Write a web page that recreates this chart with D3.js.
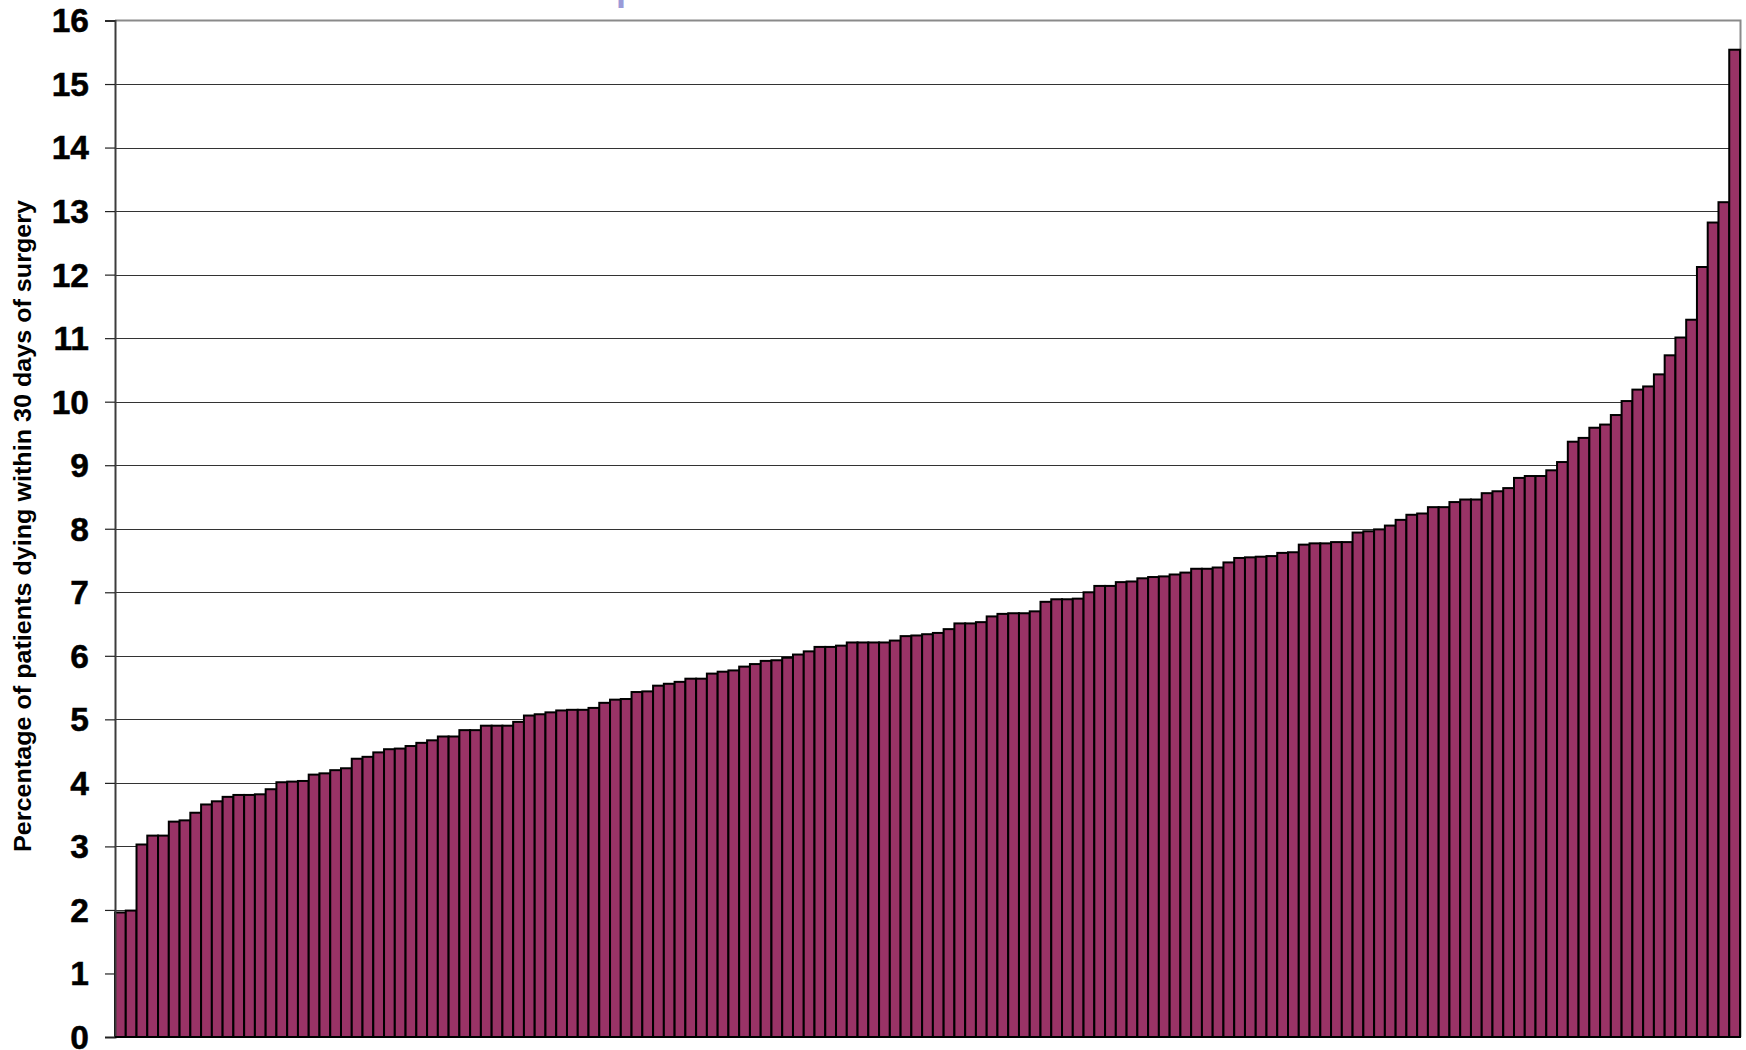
<!DOCTYPE html>
<html>
<head>
<meta charset="utf-8">
<script src="https://cdn.jsdelivr.net/npm/d3@7"></script>
<style>
  html, body { margin: 0; padding: 0; background: #fff; }
  svg { display: block; }
</style>
</head>
<body>
<svg id="chart" width="1746" height="1050"></svg>
<script>
// Percentage of patients dying within 30 days of surgery, one bar per unit (sorted)
const values = [
  1.96, 1.99, 3.03, 3.17, 3.17, 3.39, 3.41, 3.53, 3.66, 3.71,
  3.78, 3.81, 3.81, 3.82, 3.90, 4.01, 4.02, 4.03, 4.13, 4.15,
  4.20, 4.23, 4.38, 4.41, 4.48, 4.53, 4.54, 4.58, 4.63, 4.67,
  4.73, 4.73, 4.83, 4.83, 4.90, 4.90, 4.90, 4.96, 5.06, 5.08,
  5.11, 5.14, 5.15, 5.15, 5.18, 5.26, 5.31, 5.32, 5.43, 5.44,
  5.53, 5.56, 5.59, 5.64, 5.64, 5.72, 5.75, 5.77, 5.83, 5.87,
  5.92, 5.93, 5.97, 6.02, 6.07, 6.14, 6.14, 6.16, 6.21, 6.21,
  6.21, 6.21, 6.24, 6.31, 6.32, 6.34, 6.36, 6.42, 6.51, 6.51,
  6.53, 6.62, 6.66, 6.67, 6.67, 6.70, 6.85, 6.89, 6.89, 6.90,
  7.00, 7.10, 7.10, 7.16, 7.17, 7.22, 7.24, 7.25, 7.28, 7.31,
  7.37, 7.37, 7.39, 7.47, 7.54, 7.55, 7.56, 7.57, 7.62, 7.63,
  7.75, 7.77, 7.77, 7.79, 7.79, 7.94, 7.96, 7.99, 8.05, 8.14,
  8.22, 8.24, 8.34, 8.34, 8.42, 8.46, 8.46, 8.56, 8.59, 8.64,
  8.80, 8.83, 8.83, 8.92, 9.05, 9.37, 9.43, 9.59, 9.64, 9.79,
  10.01, 10.19, 10.24, 10.43, 10.73, 11.01, 11.29, 12.12, 12.82, 13.14,
  15.54
];
const categories = values.map((d, i) => i + 1);
const yTicks = [0, 1, 2, 3, 4, 5, 6, 7, 8, 9, 10, 11, 12, 13, 14, 15, 16];
const yLabel = "Percentage of patients dying within 30 days of surgery";

const svg = d3.select("#chart");
const plotLeft = 115, plotRight = 1740, plotTop = 20.5, plotBottom = 1037;

const x = d3.scaleBand().domain(categories).range([plotLeft, plotRight]).padding(0);
const y = d3.scaleLinear().domain([0, 16]).range([plotBottom, plotTop]);

// partially visible title descender at the very top
svg.append("text")
  .attr("x", 616).attr("y", 0)
  .attr("font-family", "Liberation Sans, Arial, sans-serif")
  .attr("font-size", 36).attr("font-weight", "bold")
  .attr("fill", "#9a9ad8")
  .text("p");

// gridlines
svg.append("g")
  .selectAll("line")
  .data(yTicks.filter(t => t > 0 && t < 16))
  .join("line")
  .attr("x1", plotLeft).attr("x2", plotRight)
  .attr("y1", d => Math.round(y(d)) + 0.5)
  .attr("y2", d => Math.round(y(d)) + 0.5)
  .attr("stroke", "#333").attr("stroke-width", 1.2);

// plot border top/right
svg.append("path")
  .attr("d", `M${plotLeft},${plotTop}H${plotRight + 0.5}V${plotBottom}`)
  .attr("fill", "none").attr("stroke", "#8a8a8a").attr("stroke-width", 2);

// bars
svg.append("g")
  .selectAll("rect")
  .data(values)
  .join("rect")
  .attr("x", (d, i) => x(categories[i]))
  .attr("width", x.bandwidth())
  .attr("y", d => y(d))
  .attr("height", d => y(0) - y(d))
  .attr("fill", "#993366")
  .attr("stroke", "#000")
  .attr("stroke-width", 2);

// y axis
const yAxis = d3.axisLeft(y).tickValues(yTicks).tickSize(10).tickPadding(16).tickFormat(d3.format("d"));
const gy = svg.append("g").attr("transform", `translate(${plotLeft},0)`).call(yAxis);
gy.select(".domain").attr("stroke", "#3c3c3c").attr("stroke-width", 2);
gy.selectAll(".tick line").attr("stroke", "#222").attr("stroke-width", 1.2);
gy.selectAll(".tick text")
  .attr("font-family", "Liberation Sans, Arial, sans-serif")
  .attr("font-size", 33.5)
  .attr("font-weight", "bold")
  .attr("fill", "#000")
  .attr("stroke", "#000")
  .attr("stroke-width", 0.5)
  .attr("dy", "0.34em");

// x baseline
svg.append("line")
  .attr("x1", plotLeft).attr("x2", plotRight)
  .attr("y1", plotBottom).attr("y2", plotBottom)
  .attr("stroke", "#000").attr("stroke-width", 2);

// y-axis title
svg.append("text")
  .attr("transform", `translate(30.5,526) rotate(-90)`)
  .attr("text-anchor", "middle")
  .attr("font-family", "Liberation Sans, Arial, sans-serif")
  .attr("font-size", 23.5)
  .attr("font-weight", "bold")
  .attr("fill", "#000")
  .attr("textLength", 652)
  .attr("lengthAdjust", "spacingAndGlyphs")
  .text(yLabel);
</script>
</body>
</html>
